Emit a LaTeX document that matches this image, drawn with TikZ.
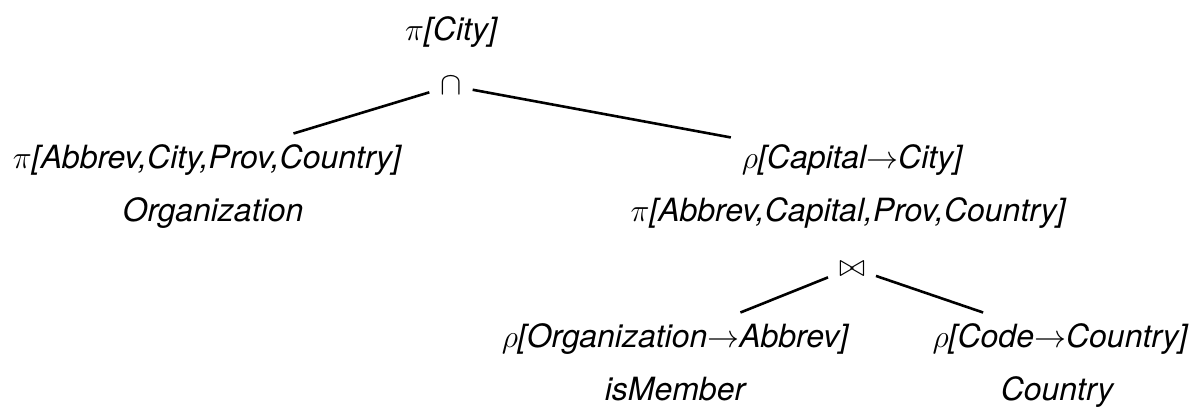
\RequirePackage{fix-cm}
\documentclass[tikz,border=0pt]{standalone}
\usepackage{fontspec}
\setmainfont{TeX Gyre Heros}
\tikzset{
  lbl/.style={anchor=base, inner sep=0pt, outer sep=11pt, text height=23.5pt, text depth=7pt,
    font=\fontsize{32}{38}\selectfont\itshape},
  edge/.style={line width=2.6pt}
}
\begin{document}
\begin{tikzpicture}[x=1pt,y=-1pt]
\useasboundingbox (0,0) rectangle (1197,408);
\node[lbl] (top) at (451,40) {$\pi$[City]};
\node[lbl] (cap) at (451,94) {$\cap$};
\node[lbl] (lp) at (207,168) {$\pi$[Abbrev,City,Prov,Country]};
\node[lbl] (lorg) at (213,221) {Organization};
\node[lbl] (rr) at (852,168) {$\rho$[Capital$\rightarrow$City]};
\node[lbl] (rp) at (848,221) {$\pi$[Abbrev,Capital,Prov,Country]};
\node[lbl] (join) at (852,276) {$\bowtie$};
\node[lbl] (lr) at (675,347) {$\rho$[Organization$\rightarrow$Abbrev]};
\node[lbl] (lm) at (675,400) {isMember};
\node[lbl] (cr) at (1060,347) {$\rho$[Code$\rightarrow$Country]};
\node[lbl] (cc) at (1057,400) {Country};
\draw[edge] (cap) -- (lp);
\draw[edge] (cap) -- (rr);
\draw[edge] (join) -- (lr);
\draw[edge] (join) -- (cr);
\end{tikzpicture}
\end{document}
